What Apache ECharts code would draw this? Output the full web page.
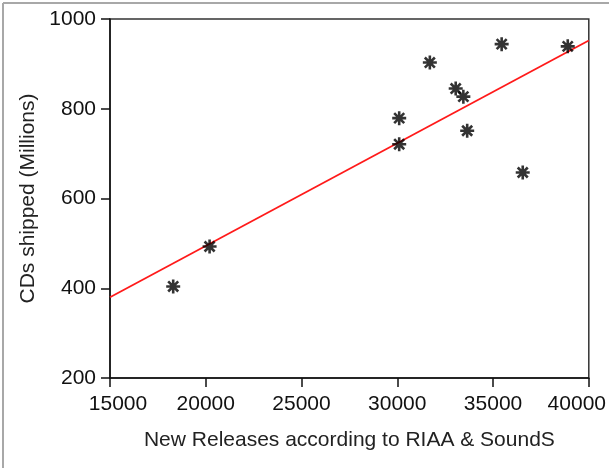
<!DOCTYPE html>
<html><head><meta charset="utf-8">
<script src="https://cdn.jsdelivr.net/npm/echarts@6/dist/echarts.min.js"></script>
<style>html,body{margin:0;padding:0;background:#fff}#c{width:609px;height:468px}</style>
</head><body><div id="c"></div>
<script>
var releases = [18300, 20200, 30100, 30100, 31700, 33050, 33450, 33650, 35450, 36550, 38900];
var shipped  = [404, 493, 721, 779, 903, 845, 827, 751, 944, 658, 939];
var fitX = [15000, 40000];
var fitY = [380, 952];
var xTicks = [15000, 20000, 25000, 30000, 35000, 40000];
var yTicks = [200, 400, 600, 800, 1000];
var xTitle = 'New Releases according to RIAA & SoundS';
var yTitle = 'CDs shipped (Millions)';

var font = 'Liberation Sans';
var fs = 21;
var chart = echarts.init(document.getElementById('c'));
var star = 'path://M0,-6L0,6M-6,0L6,0M-4.3,-4.3L4.3,4.3M-4.3,4.3L4.3,-4.3';
chart.setOption({
  animation: false,
  backgroundColor: '#fff',
  grid: {left: 110, right: 20, top: 19, bottom: 90, show: true, borderColor: '#333', borderWidth: 1.5},
  xAxis: {
    type: 'value', min: xTicks[0], max: xTicks[xTicks.length-1], interval: 5000,
    name: xTitle, nameLocation: 'middle', nameGap: 52,
    nameTextStyle: {fontFamily: font, fontSize: fs, color: '#222'},
    axisLine: {show: true, lineStyle: {color: '#111', width: 1.5}},
    axisTick: {show: true, length: 9, lineStyle: {color: '#111', width: 1.5}},
    axisLabel: {margin: 16, fontFamily: font, fontSize: fs, color: '#111',
      formatter: function (v) {
        if (v === xTicks[0]) return '{a|' + v + '}';
        if (v === xTicks[xTicks.length-1]) return '{b|' + v + '}';
        return String(v);
      },
      rich: {a: {fontFamily: font, fontSize: fs, color: '#111', padding: [0, 0, 0, 16]},
             b: {fontFamily: font, fontSize: fs, color: '#111', padding: [0, 24, 0, 0]}}},
    splitLine: {show: false}
  },
  yAxis: {
    type: 'value', min: yTicks[0], max: yTicks[yTicks.length-1], interval: 200,
    name: yTitle, nameLocation: 'middle', nameGap: 71, nameRotate: 90,
    nameTextStyle: {fontFamily: font, fontSize: fs, color: '#222'},
    axisLine: {show: true, lineStyle: {color: '#111', width: 1.5}},
    axisTick: {show: true, length: 9, lineStyle: {color: '#111', width: 1.5}},
    axisLabel: {margin: 14, fontFamily: font, fontSize: fs, color: '#111',
      formatter: function (v) { return String(v); }},
    splitLine: {show: false}
  },
  graphic: [
    {type: 'line', shape: {x1: 3, y1: 3, x2: 609, y2: 3}, style: {stroke: '#a8a8a8', lineWidth: 2}},
    {type: 'line', shape: {x1: 3, y1: 3, x2: 3, y2: 468}, style: {stroke: '#a8a8a8', lineWidth: 2}}
  ],
  series: [
    {type: 'line', data: fitX.map(function (x, i) { return [x, fitY[i]]; }),
     symbol: 'none', lineStyle: {color: '#ff1a1a', width: 1.8}, z: 2},
    {type: 'scatter', data: releases.map(function (x, i) { return [x, shipped[i]]; }),
     symbol: star, symbolSize: 14,
     itemStyle: {color: '#000', borderColor: '#000', borderWidth: 2.6}, z: 3}
  ]
});
</script></body></html>
